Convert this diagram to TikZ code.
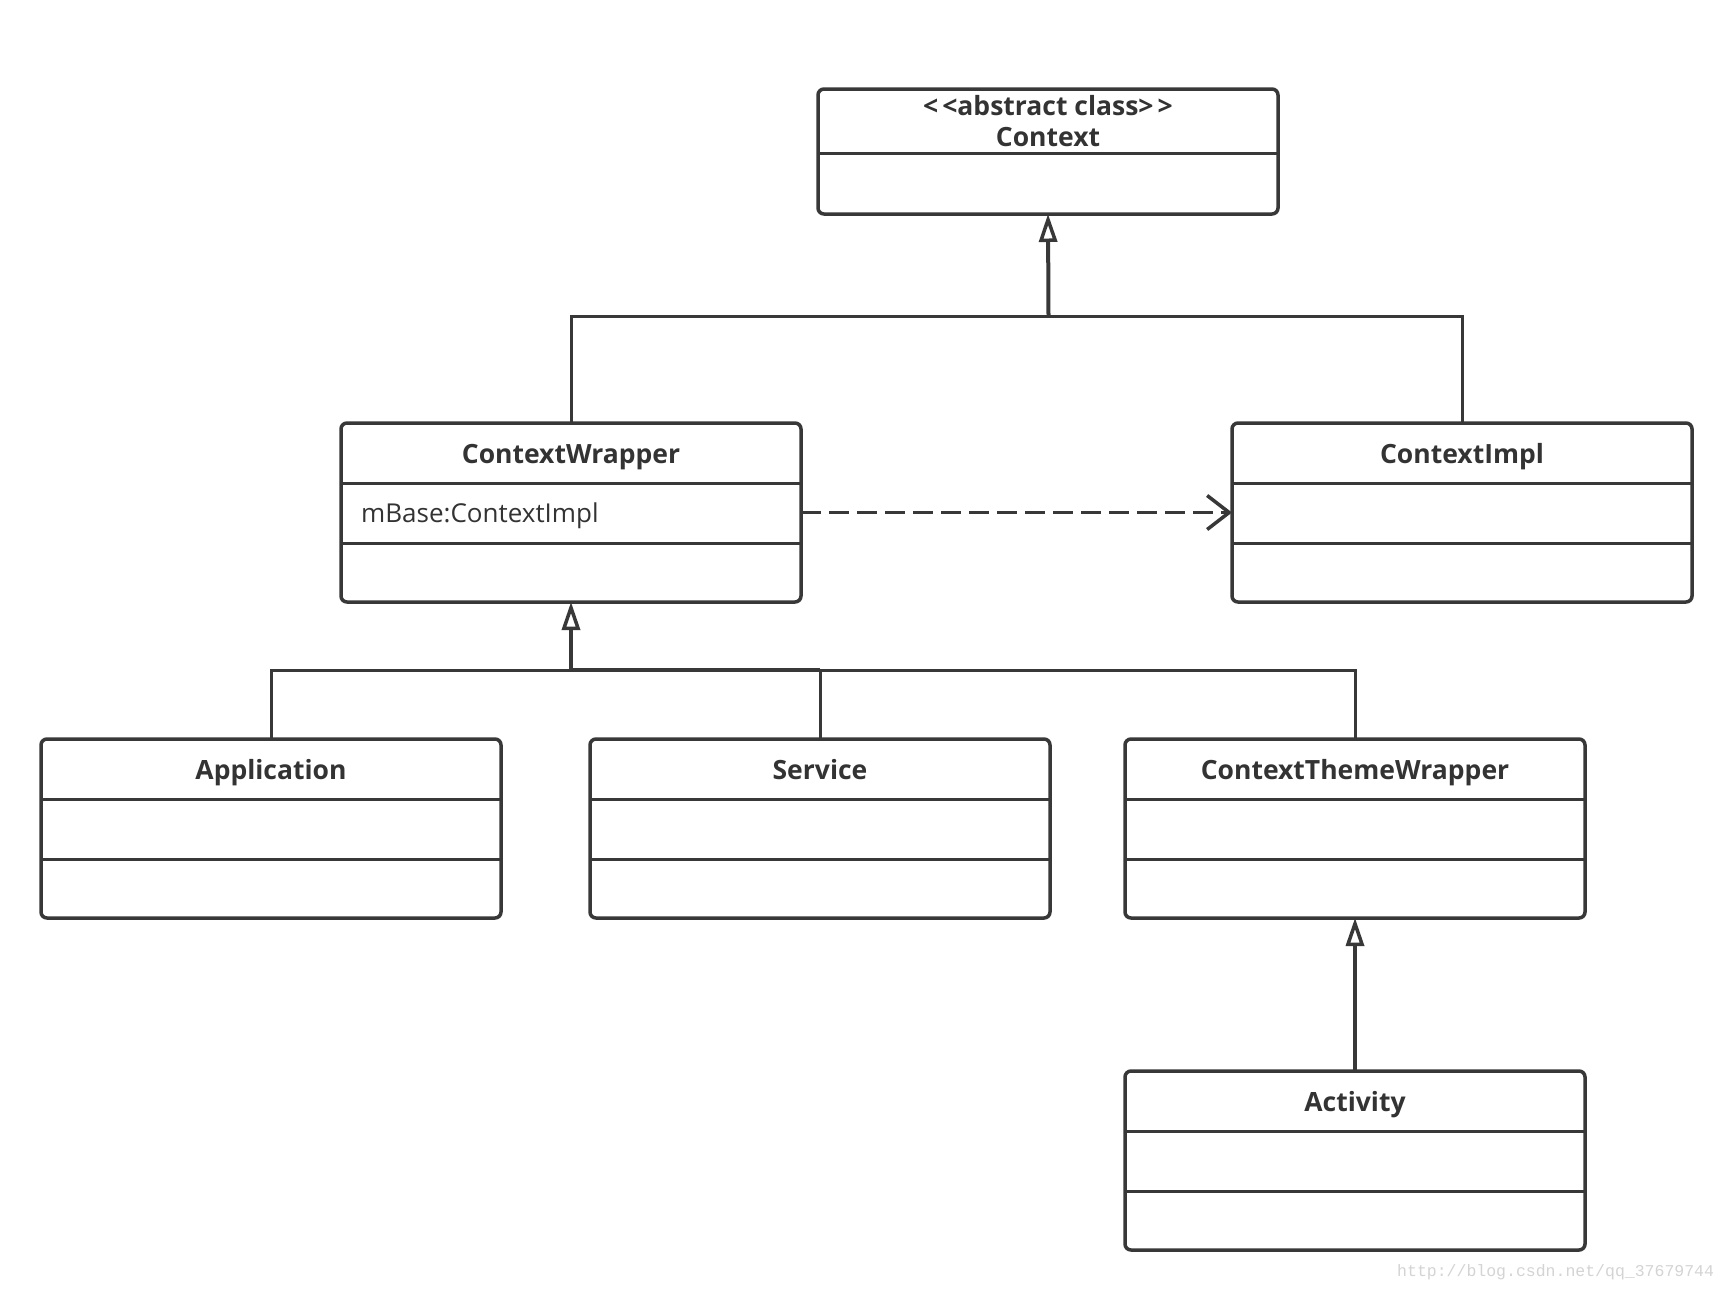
\documentclass[tikz,border=0pt]{standalone}
\usepackage{fontspec}
\setmainfont{Open Sans}
\newfontfamily\wmfont{Liberation Mono}
\usetikzlibrary{arrows.meta}
\definecolor{ink}{HTML}{383838}
\definecolor{txt}{HTML}{333333}
\definecolor{wm}{HTML}{D4D4D4}
\begin{document}
\begin{tikzpicture}[x=1pt,y=-1pt,
  classbox/.style={draw=ink, line width=3.5pt, rounded corners=6pt, inner sep=0pt, outer sep=0pt,
                   anchor=north west, minimum width=460pt, minimum height=179pt},
  divider/.style={draw=ink, line width=3pt},
  ctitle/.style={font=\fontsize{26.5}{30}\selectfont\bfseries, text=txt, inner sep=0pt, anchor=base},
  cattr/.style={font=\fontsize{26}{30}\selectfont, text=txt, inner sep=0pt, anchor=base west},
  genline/.style={draw=ink, line width=3pt},
  gen/.style={draw=ink, line width=4pt, -{Triangle[open, length=28pt, width=18pt, line width=3.5pt]}},
  dep/.style={draw=ink, line width=3.5pt, dash pattern=on 20pt off 8pt,
              -{Straight Barb[length=22pt, width=34pt, line width=3.5pt]}},
]
\useasboundingbox (0,0) rectangle (1727,1291);
\fill[white] (0,0) rectangle (1727,1291);

% Context
\node[classbox, minimum height=125pt] (context) at (818,89) {};
\draw[divider] ([yshift=-64pt]context.north west) -- ([yshift=-64pt]context.north east);
\node[ctitle, font=\fontsize{26.5}{30}\selectfont\bfseries] (contextS) at ([yshift=-26pt]context.north) {<\kern4pt<abstract class>\kern4pt>};
\node[ctitle, font=\fontsize{26.5}{30}\selectfont\bfseries] (contextT) at ([yshift=-57pt]context.north) {Context};

% ContextWrapper
\node[classbox] (wrapper) at (341,423) {};
\draw[divider] ([yshift=-60pt]wrapper.north west) -- ([yshift=-60pt]wrapper.north east);
\draw[divider] ([yshift=-120pt]wrapper.north west) -- ([yshift=-120pt]wrapper.north east);
\node[ctitle] (wrapperT) at ([yshift=-40pt]wrapper.north) {ContextWrapper};
\node[cattr] (wrapperA) at ([xshift=20pt,yshift=-99.5pt]wrapper.north west) {mBase:ContextImpl};

% ContextImpl
\node[classbox] (impl) at (1232,423) {};
\draw[divider] ([yshift=-60pt]impl.north west) -- ([yshift=-60pt]impl.north east);
\draw[divider] ([yshift=-120pt]impl.north west) -- ([yshift=-120pt]impl.north east);
\node[ctitle] (implT) at ([yshift=-40pt]impl.north) {ContextImpl};

% Application
\node[classbox] (app) at (41,739) {};
\draw[divider] ([yshift=-60pt]app.north west) -- ([yshift=-60pt]app.north east);
\draw[divider] ([yshift=-120pt]app.north west) -- ([yshift=-120pt]app.north east);
\node[ctitle] (appT) at ([yshift=-40pt]app.north) {Application};

% Service
\node[classbox] (service) at (590,739) {};
\draw[divider] ([yshift=-60pt]service.north west) -- ([yshift=-60pt]service.north east);
\draw[divider] ([yshift=-120pt]service.north west) -- ([yshift=-120pt]service.north east);
\node[ctitle] (serviceT) at ([yshift=-40pt]service.north) {Service};

% ContextThemeWrapper
\node[classbox] (ctw) at (1125,739) {};
\draw[divider] ([yshift=-60pt]ctw.north west) -- ([yshift=-60pt]ctw.north east);
\draw[divider] ([yshift=-120pt]ctw.north west) -- ([yshift=-120pt]ctw.north east);
\node[ctitle] (ctwT) at ([yshift=-40pt]ctw.north) {ContextThemeWrapper};

% Activity
\node[classbox] (activity) at (1125,1071) {};
\draw[divider] ([yshift=-60pt]activity.north west) -- ([yshift=-60pt]activity.north east);
\draw[divider] ([yshift=-120pt]activity.north west) -- ([yshift=-120pt]activity.north east);
\node[ctitle] (activityT) at ([yshift=-40pt]activity.north) {Activity};

% generalisation to Context
\coordinate (j1) at (1048.5,316);
\draw[genline] (wrapper.north) |- (j1);
\draw[genline] (impl.north) |- (j1);
\draw[gen] (j1) -- (context.south);

% generalisation to ContextWrapper
\coordinate (j2) at (571,670);
\draw[genline] (app.north) |- (j2);
\draw[genline] (service.north) |- (j2);
\draw[genline] (ctw.north) |- (j2);
\draw[genline, line width=4pt] (service.north |- j2) -- (j2);
\draw[gen] (j2) -- (wrapper.south);

% Activity -> ContextThemeWrapper
\draw[gen] (activity.north) -- (ctw.south);

% dependency
\draw[dep] (wrapper.east) -- (impl.west);

% watermark
\node[font=\wmfont\fontsize{16.5}{18}\selectfont, text=wm, anchor=west, inner sep=0pt] (wmark) at (1397,1272) {http://blog.csdn.net/qq\_37679744};
\end{tikzpicture}
\end{document}
